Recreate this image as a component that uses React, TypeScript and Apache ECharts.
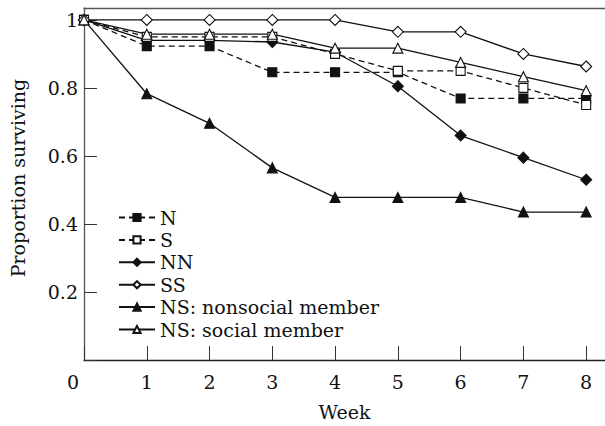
import React, { useEffect, useRef } from "react";
import * as echarts from "echarts";

const weeks = [0, 1, 2, 3, 4, 5, 6, 7, 8];
const seriesN = [1, 0.923, 0.923, 0.846, 0.846, 0.846, 0.769, 0.769, 0.769];
const seriesS = [1, 0.95, 0.95, 0.95, 0.9, 0.85, 0.85, 0.8, 0.75];
const seriesNN = [1, 0.94, 0.94, 0.935, 0.905, 0.805, 0.66, 0.595, 0.53];
const seriesSS = [1, 1, 1, 1, 1, 0.965, 0.965, 0.9, 0.863];
const seriesNSnon = [1, 0.783, 0.696, 0.565, 0.478, 0.478, 0.478, 0.435, 0.435];
const seriesNSsoc = [1, 0.958, 0.958, 0.958, 0.917, 0.917, 0.875, 0.833, 0.792];
const yTicks = [0.2, 0.4, 0.6, 0.8, 1];

const FONT = "'DejaVu Serif', 'Liberation Serif', serif";
const FS = 19;

function pairs(vals: number[]) {
  return weeks.map((w, i) => [w, vals[i]]);
}

function mk(name: string, vals: number[], symbol: string, filled: boolean, dashed: boolean, size: number) {
  return {
    name,
    type: "line",
    data: pairs(vals),
    symbol,
    symbolSize: size,
    showAllSymbol: true,
    lineStyle: { color: "#111", width: 1.3, type: dashed ? [6, 4] : "solid" },
    itemStyle: { color: filled ? "#111" : "#fff", borderColor: "#111", borderWidth: 1.1 },
    emphasis: { disabled: true },
    z: filled ? 3 : 4,
  };
}

export default function App() {
  const ref = useRef<HTMLDivElement>(null);
  useEffect(() => {
    document.body.style.margin = "0";
    const chart = echarts.init(ref.current!, null, { renderer: "svg" });
    chart.setOption({
      animation: false,
      backgroundColor: "#fff",
      grid: { left: 83, top: 8, right: 0, bottom: 59, containLabel: false },
      legend: {
        orient: "vertical",
        left: 113,
        top: 203,
        itemWidth: 36,
        itemHeight: 9,
        itemGap: 3.4,
        textStyle: { fontFamily: FONT, fontSize: FS, color: "#111", lineHeight: 18 },
        data: ["N", "S", "NN", "SS", "NS: nonsocial member", "NS: social member"],
      },
      xAxis: [
        {
          type: "value",
          min: 0,
          max: 8.3,
          interval: 1,
          name: "Week",
          nameLocation: "middle",
          nameGap: 42,
          nameTextStyle: { fontFamily: FONT, fontSize: FS, color: "#111" },
          axisLine: { show: true, onZero: false, lineStyle: { color: "#222", width: 1.3 } },
          axisTick: { show: true, inside: true, length: 14, lineStyle: { color: "#333", width: 1 } },
          splitLine: { show: false },
          axisLabel: {
            fontFamily: FONT,
            fontSize: FS,
            color: "#111",
            margin: 12,
            showMaxLabel: false,
            formatter: (v: number) => {
              if (v === 0) return "{o|0}";
              return Number.isInteger(v) ? String(v) : "";
            },
            rich: { o: { fontFamily: FONT, fontSize: FS, color: "#111", padding: [0, 22, 0, 0] } },
          },
        },
        {
          type: "value",
          position: "top",
          min: 0,
          max: 8.3,
          axisLine: { show: true, onZero: false, lineStyle: { color: "#555", width: 1.3 } },
          axisTick: { show: false },
          axisLabel: { show: false },
          splitLine: { show: false },
        },
      ],
      yAxis: {
        type: "value",
        min: 0,
        max: 1.035,
        interval: 0.2,
        name: "Proportion surviving",
        nameLocation: "middle",
        nameGap: 57,
        nameTextStyle: { fontFamily: FONT, fontSize: FS, color: "#111", padding: [0, 0, 0, 12] },
        axisLine: { show: true, lineStyle: { color: "#555", width: 1.3 } },
        axisTick: { show: true, inside: true, length: 13, lineStyle: { color: "#333", width: 1 } },
        splitLine: { show: false },
        axisLabel: {
          fontFamily: FONT,
          fontSize: FS,
          color: "#111",
          margin: 6,
          showMaxLabel: false,
          formatter: (v: number) => {
            const hit = yTicks.find((t) => Math.abs(t - v) < 1e-6);
            if (hit === undefined) return "";
            return hit === 1 ? "1" : String(hit);
          },
        },
      },
      series: [
        mk("N", seriesN, "rect", true, true, 9),
        mk("S", seriesS, "rect", false, true, 9),
        mk("NN", seriesNN, "diamond", true, false, 11),
        mk("SS", seriesSS, "diamond", false, false, 11),
        mk("NS: nonsocial member", seriesNSnon, "triangle", true, false, 10),
        mk("NS: social member", seriesNSsoc, "triangle", false, false, 10),
      ],
    });
    return () => chart.dispose();
  }, []);
  return <div ref={ref} style={{ width: 605, height: 426 }} />;
}
